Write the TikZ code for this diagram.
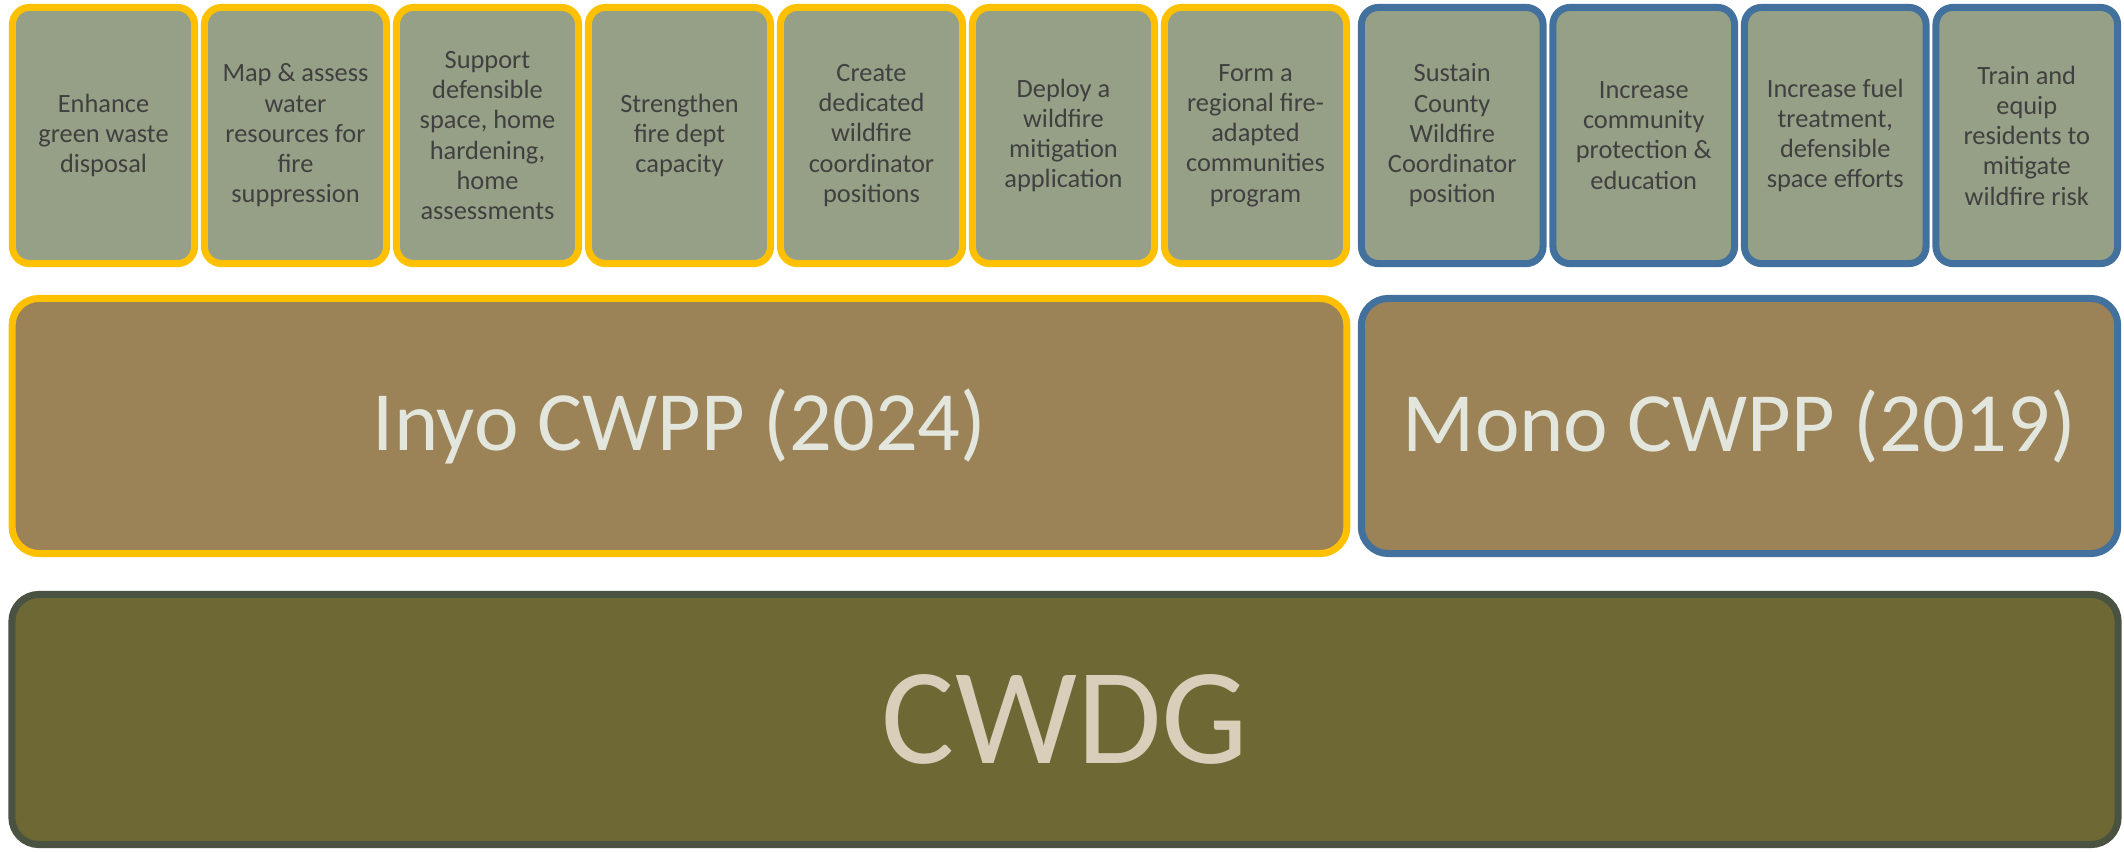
\documentclass[tikz,border=0pt]{standalone}
\usepackage{fontspec}
\setmainfont{Carlito}
\usepackage{xcolor}

\definecolor{goalfill}{RGB}{149,160,134}
\definecolor{goaltext}{RGB}{64,64,64}
\definecolor{inyoline}{RGB}{255,192,0}
\definecolor{monoline}{RGB}{65,113,156}
\definecolor{planfill}{RGB}{155,130,87}
\definecolor{plantext}{RGB}{226,230,220}
\definecolor{basefill}{RGB}{109,104,52}
\definecolor{baseline}{RGB}{74,82,66}
\definecolor{basetext}{RGB}{216,206,186}

\begin{document}
\begin{tikzpicture}[x=0.01cm,y=-0.01cm,
  goal/.style={rectangle, rounded corners=0.17cm, fill=goalfill, line width=0.07cm,
    minimum width=1.82cm, minimum height=2.56cm, inner sep=0pt, align=center,
    text=goaltext, font=\fontsize{7.5}{8.6}\selectfont},
  plan/.style={rectangle, rounded corners=0.27cm, fill=planfill, line width=0.07cm,
    minimum height=2.55cm, inner sep=0pt, text=plantext,
    font=\fontsize{24}{29}\selectfont}]
  \useasboundingbox (0,0) rectangle (2124,851);

  % goals from the Inyo plan
  \foreach \i/\txt in {
      1/{Enhance\\green waste\\disposal},
      2/{Map \& assess\\water\\resources for\\fire\\suppression},
      3/{Support\\defensible\\space, home\\hardening,\\home\\assessments},
      4/{Strengthen\\fire dept\\capacity},
      5/{Create\\dedicated\\wildfire\\coordinator\\positions},
      6/{Deploy a\\wildfire\\mitigation\\application},
      7/{Form a\\regional fire-\\adapted\\communities\\program}}
    \node[goal, draw=inyoline] (inyo\i) at ({103.5+(\i-1)*192},135.5) {\txt};

  % goals from the Mono plan
  \foreach \i/\txt in {
      1/{Sustain\\County\\Wildfire\\Coordinator\\position},
      2/{Increase\\community\\protection \&\\education},
      3/{Increase fuel\\treatment,\\defensible\\space efforts},
      4/{Train and\\equip\\residents to\\mitigate\\wildfire risk}}
    \node[goal, draw=monoline, minimum width=1.815cm] (mono\i) at ({1452.25+(\i-1)*191.5},135.5) {\txt};

  % the two plans
  \node[plan, draw=inyoline, minimum width=13.34cm] (inyo) at (679.5,426) {Inyo CWPP (2024)};
  \node[plan, draw=monoline, minimum width=7.56cm] (mono) at (1739.5,426) {Mono CWPP (2019)};

  % base
  \node[plan, draw=baseline, fill=basefill, text=basetext, minimum width=21.05cm,
    minimum height=2.5cm, font=\fontsize{39}{47}\selectfont] (cwdg) at (1065,719.5) {CWDG};
\end{tikzpicture}
\end{document}
